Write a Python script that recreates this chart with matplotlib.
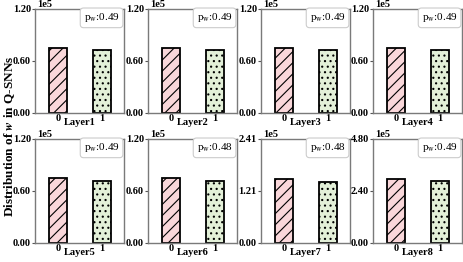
import numpy as np
import matplotlib
matplotlib.use("Agg")
import matplotlib.pyplot as plt

plt.rcParams['font.family'] = ['Liberation Serif', 'DejaVu Serif']
plt.rcParams['mathtext.fontset'] = 'stix'
plt.rcParams['hatch.linewidth'] = 0.8

# values in units of 1e5 (count of weights equal to 0 / 1 in each layer)
layers = ['Layer1', 'Layer2', 'Layer3', 'Layer4', 'Layer5', 'Layer6', 'Layer7', 'Layer8']
count0 = [0.755, 0.755, 0.755, 0.755, 0.75, 0.755, 1.49, 2.97]
count1 = [0.727, 0.728, 0.727, 0.727, 0.72, 0.715, 1.42, 2.86]
ymax = [1.20, 1.20, 1.20, 1.20, 1.20, 1.20, 2.41, 4.80]
ytick_labels = [['0.00', '0.60', '1.20']] * 6 + [['0.00', '1.21', '2.41'], ['0.00', '2.40', '4.80']]
p_w = ['0.49', '0.49', '0.49', '0.49', '0.49', '0.48', '0.48', '0.49']
bins = [0, 1]

fig = plt.figure(figsize=(4.63, 2.62), dpi=100)
W, H = 463, 262
lefts = [35, 148, 261, 373]
tops = [9, 139]
aw, ah = 89, 104
fw = 'bold'
fs = 7.5

for i in range(8):
    r, c = divmod(i, 4)
    ax = fig.add_axes([lefts[c] / W, 1 - (tops[r] + ah) / H, aw / W, ah / H])
    ax.bar(bins[0], count0[i], width=0.4, color='#f9d7da', edgecolor='black',
           hatch='///', linewidth=1.3)
    ax.bar(bins[1], count1[i], width=0.4, color='#e3f0d8', edgecolor='black',
           hatch='...', linewidth=1.3)
    ax.set_xlim(-0.52, 1.5)
    ax.set_ylim(0, ymax[i])
    ax.set_yticks([0, ymax[i] / 2, ymax[i]])
    ax.set_yticklabels(ytick_labels[i], fontsize=fs, fontweight=fw)
    ax.set_xticks(bins)
    ax.set_xticklabels(['0', '1'], fontsize=fs, fontweight=fw)
    ax.tick_params(axis='x', length=0, pad=1)
    ax.tick_params(axis='y', length=2.5, pad=0.5, color='#555555')
    ax.set_xlabel(layers[i], fontsize=fs, fontweight=fw, labelpad=-4)
    for s in ax.spines.values():
        s.set_color('#7a7a7a')
        s.set_linewidth(1.0)
    ax.text(0.03, 1.0, '1e5', transform=ax.transAxes, fontsize=fs,
            fontweight=fw, ha='left', va='bottom')
    ax.text(0.95, 0.915, r'p$_{\rm w}$:' + p_w[i], transform=ax.transAxes,
            fontsize=8, ha='right', va='center',
            bbox=dict(boxstyle='round,pad=0.3', facecolor='white',
                      edgecolor='#cccccc', linewidth=0.8))

fig.text(0.02, 0.479, r'Distribution of $\boldsymbol{w}$ in Q-SNNs', rotation=90,
         ha='center', va='center', fontsize=9.5, fontweight=fw)

fig.savefig('out.png', dpi=100)
